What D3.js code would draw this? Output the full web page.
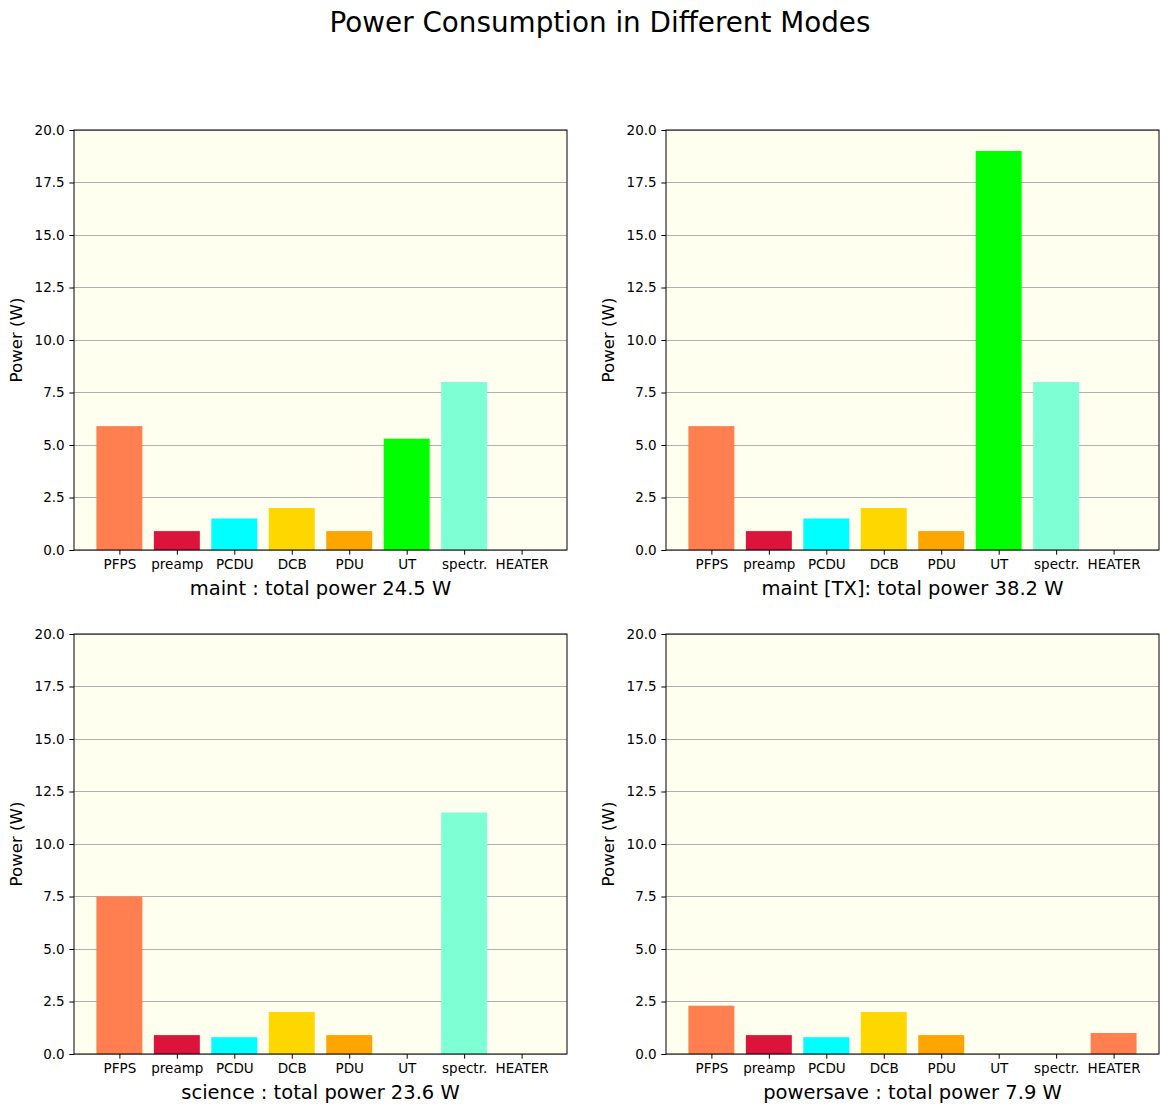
<!DOCTYPE html>
<html><head><meta charset="utf-8">
<script src="https://cdn.jsdelivr.net/npm/d3@7"></script>
<style>body{margin:0;background:#fff}svg text{font-family:"DejaVu Sans",sans-serif;fill:#000}</style>
</head><body>
<script>
const categories = ["PFPS","preamp","PCDU","DCB","PDU","UT","spectr.","HEATER"];
const barColors = ["#FF7F50","#DC143C","#00FFFF","#FFD700","#FFA500","#00FF00","#7FFFD4","#FF7F50"];
const modeNames = ["maint","maint [TX]","science","powersave"];
const modeLabels = ["maint : total power 24.5 W","maint [TX]: total power 38.2 W","science : total power 23.6 W","powersave : total power 7.9 W"];
const maintValues = [5.9,0.9,1.5,2.0,0.9,5.3,8.0,0];
const maintTxValues = [5.9,0.9,1.5,2.0,0.9,19.0,8.0,0];
const scienceValues = [7.5,0.9,0.8,2.0,0.9,0,11.5,0];
const powersaveValues = [2.3,0.9,0.8,2.0,0.9,0,0,1.0];
const yTicks = [0,2.5,5,7.5,10,12.5,15,17.5,20];
const title = "Power Consumption in Different Modes";
const yLabel = "Power (W)";

const W = 1169, H = 1112;
const svg = d3.select("body").append("svg").attr("width", W).attr("height", H);
svg.append("text").attr("x", 600).attr("y", 32).attr("text-anchor","middle")
  .attr("font-size", "27.8px").text(title);

const panels = [
  {vals: maintValues, label: modeLabels[0], x0: 74, y0: 130},
  {vals: maintTxValues, label: modeLabels[1], x0: 666, y0: 130},
  {vals: scienceValues, label: modeLabels[2], x0: 74, y0: 634},
  {vals: powersaveValues, label: modeLabels[3], x0: 666, y0: 634}
];
const pw = 493, ph = 420;

panels.forEach(p => {
  const g = svg.append("g").attr("transform", `translate(${p.x0},${p.y0})`);
  const x = d3.scaleLinear().domain([-0.79, 7.79]).range([0, pw]);
  const y = d3.scaleLinear().domain([0, 20]).range([ph, 0]);
  g.append("rect").attr("width", pw).attr("height", ph).attr("fill", "#FFFFF0");
  // grid
  g.selectAll(".grid").data(yTicks).enter().append("line")
    .attr("x1", 0).attr("x2", pw).attr("y1", d => y(d)).attr("y2", d => y(d))
    .attr("stroke", "#b0b0b0").attr("stroke-width", 1).attr("shape-rendering", "crispEdges");
  // bars
  g.selectAll(".bar").data(p.vals).enter().append("rect")
    .attr("x", (d, i) => x(i - 0.4)).attr("width", x(0.8) - x(0))
    .attr("y", d => y(d)).attr("height", d => y(0) - y(d))
    .attr("fill", (d, i) => barColors[i]);
  // axes
  const yAxis = d3.axisLeft(y).tickValues(yTicks).tickFormat(d3.format(".1f")).tickSize(4.7).tickPadding(4.7);
  const ya = g.append("g").call(yAxis);
  const xAxis = d3.axisBottom(x).tickValues(d3.range(categories.length)).tickFormat(i => categories[i]).tickSize(4.7).tickPadding(4.7);
  const xa = g.append("g").attr("transform", `translate(0,${ph})`).call(xAxis);
  [ya, xa].forEach(a => {
    a.select(".domain").remove();
    a.selectAll("text").attr("font-size", "13.5px").attr("font-family", "DejaVu Sans, sans-serif").attr("fill", "#000");
    a.selectAll("line").attr("stroke", "#000").attr("stroke-width", 1);
  });
  // frame
  g.append("rect").attr("width", pw).attr("height", ph).attr("fill", "none").attr("stroke", "#000").attr("stroke-width", 1);
  // labels
  g.append("text").attr("x", pw / 2).attr("y", ph + 45).attr("text-anchor", "middle")
    .attr("font-size", "19.5px").text(p.label);
  g.append("text").attr("transform", `translate(-52,${ph / 2}) rotate(-90)`).attr("text-anchor", "middle")
    .attr("font-size", "16.6px").text(yLabel);
});
</script>
</body></html>
